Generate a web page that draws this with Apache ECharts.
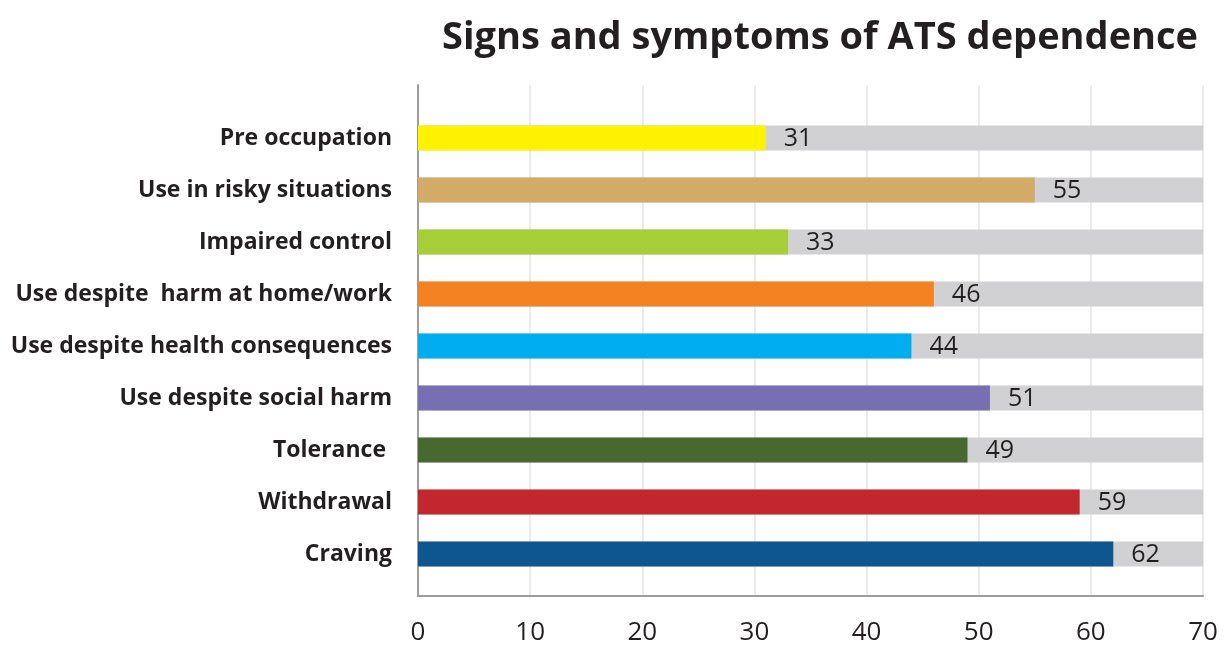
<!DOCTYPE html>
<html><head><meta charset="utf-8">
<script src="https://cdn.jsdelivr.net/npm/echarts@6/dist/echarts.min.js"></script>
<style>html,body{margin:0;padding:0;background:#fff}#c{width:1224px;height:646px}</style>
</head><body><div id="c"></div>
<script>
const categories = ["Pre occupation","Use in risky situations","Impaired control","Use despite  harm at home/work","Use despite health consequences","Use despite social harm","Tolerance ","Withdrawal","Craving"];
const values = [31,55,33,46,44,51,49,59,62];
const barColors = ["#FFF200","#D4AA67","#A6CE39","#F58220","#00AEEF","#7670B3","#476930","#C1272D","#0E5690"];
const xTicks = {min:0, max:70, interval:10};
const titleText = "Signs and symptoms of ATS dependence";

const chart = echarts.init(document.getElementById('c'), null, {renderer:'canvas'});
chart.setOption({
  animation:false,
  backgroundColor:'#fff',
  title:{text:titleText, left:815, top:14, textAlign:'center',
    textStyle:{fontFamily:'Open Sans', fontWeight:'bold', fontSize:38, color:'#231f20'}},
  grid:[
    {left:418, right:21, top:85, bottom:49},
    {left:418, right:21, top:112, bottom:66}
  ],
  xAxis:[
    {gridIndex:0, type:'value', min:xTicks.min, max:xTicks.max, interval:xTicks.interval,
     axisLine:{show:true, lineStyle:{color:'#9d9d9d', width:2}}, axisTick:{show:false},
     axisLabel:{fontFamily:'Open Sans', fontSize:26, color:'#231f20', margin:24},
     splitLine:{show:true, lineStyle:{color:'#e4e4e4', width:1.5}}},
    {gridIndex:1, type:'value', min:xTicks.min, max:xTicks.max, interval:xTicks.interval, show:false}
  ],
  yAxis:[
    {gridIndex:0, type:'value', min:0, max:1, axisLine:{show:true, lineStyle:{color:'#9d9d9d', width:2}},
     axisTick:{show:false}, axisLabel:{show:false}, splitLine:{show:false}},
    {gridIndex:1, type:'category', data:categories, inverse:true,
     axisLine:{show:false}, axisTick:{show:false},
     axisLabel:{fontFamily:'Open Sans', fontWeight:'bold', fontSize:23, color:'#231f20', margin:26}}
  ],
  series:[{
    type:'bar', xAxisIndex:1, yAxisIndex:1, barWidth:25,
    data: values.map((v,i)=>({value:v, itemStyle:{color:barColors[i]}})),
    showBackground:true, backgroundStyle:{color:'#d1d1d3'},
    label:{show:true, position:'right', distance:18, fontFamily:'Open Sans', fontSize:25, color:'#231f20', offset:[0,1]}
  }]
});
</script></body></html>
